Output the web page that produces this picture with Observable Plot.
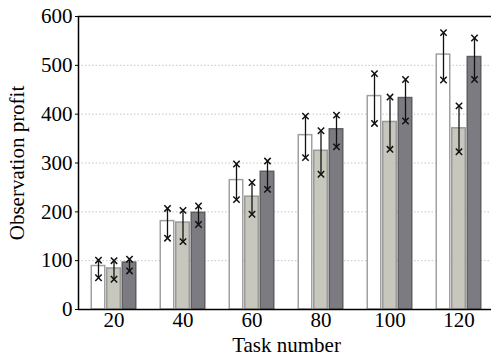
<!DOCTYPE html>
<html><head><meta charset="utf-8">
<script src="https://cdn.jsdelivr.net/npm/d3@7"></script>
<script src="https://cdn.jsdelivr.net/npm/@observablehq/plot@0.6"></script>
<style>body{margin:0;background:#fff}</style>
</head><body><div id="chart"></div>
<script>
const tasks = [20, 40, 60, 80, 100, 120];
const seriesNames = ["S1", "S2", "S3"];
const meanS1 = [89, 181, 265, 357, 437, 522];
const lowS1  = [65, 146, 225, 311, 381, 470];
const highS1 = [101, 207, 298, 396, 483, 567];
const meanS2 = [84, 178, 231, 325, 384, 371];
const lowS2  = [62, 139, 195, 277, 328, 323];
const highS2 = [100, 203, 260, 366, 435, 417];
const meanS3 = [96, 198, 282, 369, 433, 517];
const lowS3  = [79, 174, 246, 333, 386, 471];
const highS3 = [103, 212, 304, 398, 471, 556];
const yTicks = [0, 100, 200, 300, 400, 500, 600];
const gridValues = [100, 200, 300, 400, 500];
const xLabel = "Task number";
const yLabel = "Observation profit";

const series = [
  {name: seriesNames[0], mean: meanS1, low: lowS1, high: highS1},
  {name: seriesNames[1], mean: meanS2, low: lowS2, high: highS2},
  {name: seriesNames[2], mean: meanS3, low: lowS3, high: highS3}
];
const fills = ["#ffffff", "#c8c7be", "#7b7b81"];
const strokes = ["#a0a0a0", "#9a9a96", "#5f5f63"];
const offsets = [-15.5, 0, 15.5];

const marks = [
  Plot.ruleY(gridValues, {stroke: "#c4c4c4", strokeDasharray: "1.5,2", strokeWidth: 1})
];
series.forEach((s, k) => {
  const rows = tasks.map((t, i) => ({task: t, mean: s.mean[i], low: s.low[i], high: s.high[i]}));
  marks.push(Plot.barY(rows, {x: "task", y: "mean", fill: fills[k], stroke: strokes[k], strokeWidth: 1.5, dx: offsets[k], insetLeft: 0.75, insetRight: 0.75}));
});
series.forEach((s, k) => {
  const rows = tasks.map((t, i) => ({task: t, mean: s.mean[i], low: s.low[i], high: s.high[i]}));
  marks.push(Plot.ruleX(rows, {x: "task", y1: "low", y2: "high", dx: offsets[k], stroke: "#111", strokeWidth: 1.3}));
  marks.push(Plot.dot(rows, {x: "task", y: "low", dx: offsets[k], symbol: "times", r: 3, stroke: "#111", strokeWidth: 1.5}));
  marks.push(Plot.dot(rows, {x: "task", y: "high", dx: offsets[k], symbol: "times", r: 3, stroke: "#111", strokeWidth: 1.5}));
});
marks.push(Plot.frame({stroke: "#000", strokeWidth: 1.5}));
marks.push(Plot.text([xLabel], {frameAnchor: "bottom", dy: 42, text: d => d, fontSize: 21}));
marks.push(Plot.text([yLabel], {frameAnchor: "left", dx: -61, rotate: -90, textAnchor: "middle", text: d => d, fontSize: 21}));

const chart = Plot.plot({
  width: 491,
  height: 359,
  marginLeft: 78,
  marginRight: -3,
  marginTop: 16,
  marginBottom: 50,
  style: {fontFamily: "'Liberation Serif', 'Times New Roman', serif", fontSize: "21px", color: "#000", background: "#fff", overflow: "hidden"},
  x: {type: "band", domain: tasks, paddingInner: 0.778, paddingOuter: 0.369, tickSize: 0, tickPadding: 3, label: null},
  y: {domain: [0, 600], ticks: yTicks, tickSize: 3, tickPadding: 3, label: null},
  marks
});
document.getElementById("chart").appendChild(chart);
</script>
</body></html>
